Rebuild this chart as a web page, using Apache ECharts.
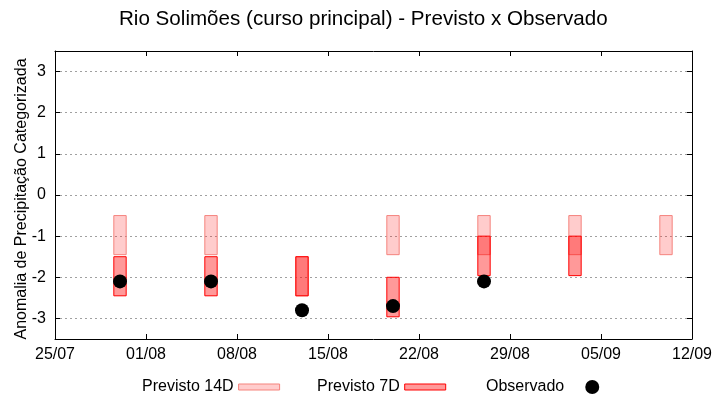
<!DOCTYPE html>
<html><head><meta charset="utf-8">
<script src="https://cdn.jsdelivr.net/npm/echarts@6/dist/echarts.min.js"></script>
<style>html,body{margin:0;padding:0;background:#fff}#c{width:720px;height:400px}</style>
</head><body><div id="c"></div>
<script>
const xTickLabels = ['25/07','01/08','08/08','15/08','22/08','29/08','05/09','12/09'];
const yTicks = [-3,-2,-1,0,1,2,3];
const prev14Dates = ['30/07','06/08','13/08','20/08','27/08','03/09','10/09'];
const prev14Top = [-0.5,-0.5,-1.5,-0.5,-0.5,-0.5,-0.5];
const prev14Bottom = [-1.45,-1.45,-2.45,-1.45,-1.45,-1.45,-1.45];
const prev7Dates = ['30/07','06/08','13/08','20/08','27/08','03/09'];
const prev7Top = [-1.5,-1.5,-1.5,-2.0,-1.0,-1.0];
const prev7Bottom = [-2.45,-2.45,-2.45,-2.96,-1.96,-1.96];
const obsDates = ['30/07','06/08','13/08','20/08','27/08'];
const obsValues = [-2.1,-2.1,-2.8,-2.7,-2.1];

function dayIndex(s){
  const p = s.split('/').map(Number);
  return (Date.UTC(2000,p[1]-1,p[0]) - Date.UTC(2000,6,25))/86400000;
}
const xMax = dayIndex(xTickLabels[xTickLabels.length-1]);
const FONT = 'Liberation Sans';

const c14Fill = 'rgba(255,0,0,0.2)', c14Stroke = '#f5837d';
const c7Fill = 'rgba(255,0,0,0.4)', c7Stroke = '#ff0000';

function boxRender(fill, stroke){
  return function(params, api){
    const x = api.value(0), top = api.value(1), bot = api.value(2);
    const p1 = api.coord([x, top]), p2 = api.coord([x, bot]);
    const w = api.size([0.95, 0])[0];
    return {type:'rect', shape:{x:p1[0]-w/2, y:p1[1], width:w, height:p2[1]-p1[1]},
      style:{fill:fill, stroke:stroke, lineWidth:1}};
  };
}

const axisBase = {
  axisLine:{show:true, onZero:false, lineStyle:{color:'#000', width:1}},
  axisTick:{show:true, inside:true, length:5, lineStyle:{color:'#000'}}
};

const legendCommon = {
  orient:'horizontal', align:'right', padding:0, selectedMode:false,
  textStyle:{fontSize:16, color:'#000', fontFamily:FONT},
  itemWidth:41, itemHeight:6, top:379
};

const chart = echarts.init(document.getElementById('c'), null, {renderer:'canvas'});
chart.setOption({
  animation:false,
  backgroundColor:'#fff',
  title:{text:'Rio Solimões (curso principal) - Previsto x Observado', left:119, top:9, padding:0,
    textStyle:{fontSize:20.6, fontWeight:'normal', color:'#000', fontFamily:FONT}},
  grid:{left:55, right:28, top:51, bottom:61},
  legend:[
    Object.assign({}, legendCommon, {left:142, data:[{name:'Previsto 14D', icon:'rect', itemStyle:{color:c14Fill, borderColor:c14Stroke, borderWidth:1}}]}),
    Object.assign({}, legendCommon, {left:317, data:[{name:'Previsto 7D', icon:'rect', itemStyle:{color:c7Fill, borderColor:c7Stroke, borderWidth:1}}]}),
    Object.assign({}, legendCommon, {left:486, itemWidth:46, itemHeight:14, data:[{name:'Observado', icon:'circle', itemStyle:{color:'#000', opacity:1}}]})
  ],
  xAxis:[
    Object.assign({}, axisBase, {type:'value', position:'bottom', min:0, max:xMax, interval:7,
      axisLabel:{fontSize:16, color:'#000', fontFamily:FONT, margin:8,
        formatter:function(v){return xTickLabels[Math.round(v/7)] || '';}},
      splitLine:{show:false}}),
    Object.assign({}, axisBase, {type:'value', position:'top', min:0, max:xMax, interval:7,
      axisLabel:{show:false}, splitLine:{show:false}})
  ],
  yAxis:[
    Object.assign({}, axisBase, {type:'value', position:'left', min:-3.5, max:3.5, splitNumber:7,
      name:'Anomalia de Precipitação Categorizada', nameLocation:'middle', nameGap:25, nameMoveOverlap:false,
      nameTextStyle:{fontSize:16, color:'#000', fontFamily:FONT, padding:[0,8,0,0]},
      axisLabel:{fontSize:16, color:'#000', fontFamily:FONT, margin:9,
        formatter:function(v){return yTicks.indexOf(v) >= 0 ? String(v) : '';}},
      splitLine:{show:true, lineStyle:{color:'#a0a0a0', width:1, type:[2,3]}}}),
    Object.assign({}, axisBase, {type:'value', position:'right', min:-3.5, max:3.5, splitNumber:7,
      axisLabel:{show:false}, splitLine:{show:false}})
  ],
  series:[
    {name:'Previsto 14D', type:'custom', renderItem:boxRender(c14Fill, c14Stroke),
      itemStyle:{color:c14Fill, borderColor:c14Stroke, borderWidth:1},
      encode:{x:0, y:[1,2]},
      data:prev14Dates.map((d,i)=>[dayIndex(d), prev14Top[i], prev14Bottom[i]])},
    {name:'Previsto 7D', type:'custom', renderItem:boxRender(c7Fill, c7Stroke),
      itemStyle:{color:c7Fill, borderColor:c7Stroke, borderWidth:1},
      encode:{x:0, y:[1,2]},
      data:prev7Dates.map((d,i)=>[dayIndex(d), prev7Top[i], prev7Bottom[i]])},
    {name:'Observado', type:'scatter', symbol:'circle', symbolSize:14,
      itemStyle:{color:'#000', opacity:1}, z:5,
      data:obsDates.map((d,i)=>[dayIndex(d), obsValues[i]])}
  ]
});
</script></body></html>
